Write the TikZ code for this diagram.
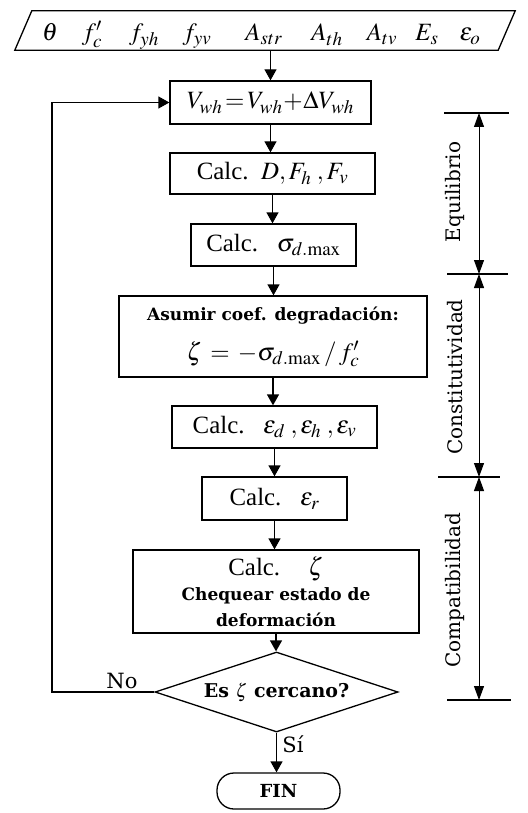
\documentclass[tikz,border=0pt]{standalone}
\IfFileExists{mathptmx.sty}{\usepackage{mathptmx}}{}
\usepackage[no-math]{fontspec}
\setmainfont{Liberation Serif}
\newfontfamily\cam{DejaVu Serif}
\DeclareMathSizes{24.88}{24.88}{19}{14}
\usetikzlibrary{arrows.meta,shapes.geometric}
\begin{document}
\begin{tikzpicture}[x=1pt,y=-1pt,
  lw/.style={line width=1.3pt},
  box/.style={draw,lw,inner sep=0pt,align=center,font=\fontsize{24.88}{28}\selectfont},
  arr/.style={lw,-{Triangle[length=11pt,width=12pt]}},
  dimarr/.style={line width=1pt,{Triangle[length=14pt,width=10pt]}-{Triangle[length=14pt,width=10pt]}},
  side/.style={rotate=90,font=\cam\fontsize{20}{24}\selectfont},
  lab/.style={font=\cam\fontsize{21}{24}\selectfont},
  sym/.style={anchor=base,inner sep=0pt,font=\fontsize{24.88}{28}\selectfont}]
\useasboundingbox (0,0) rectangle (527,813);
% input parallelogram
\node[minimum width=483,minimum height=39,inner sep=0pt] (inp) at (265,30.5) {};
\draw[lw] ([xshift=-8.5]inp.south west) -- ([xshift=8.5]inp.north west)
  -- ([xshift=8.5]inp.north east) -- ([xshift=-8.5]inp.south east) -- cycle;
\node[sym] (s1) at (50,41) {$\theta$};
\node[sym] (s2) at (92,41) {$f'_c$};
\node[sym] (s3) at (144,41) {$f_{yh}$};
\node[sym] (s4) at (197,41) {$f_{yv}$};
\node[sym] (s5) at (264,41) {$A_{str}$};
\node[sym] (s6) at (327,41) {$A_{th}$};
\node[sym] (s7) at (382,41) {$A_{tv}$};
\node[sym] (s8) at (427,41) {$E_s$};
\node[sym] (s9) at (470,41) {$\varepsilon_o$};
% boxes
\node[box,minimum width=201,minimum height=43] (b1) at (270.5,102.5) {$V_{wh}\!=\!V_{wh}\!+\!\Delta V_{wh}$};
\node[box,minimum width=205,minimum height=41] (b2) at (272.5,173.5) {Calc.\ \ $D,F_h\;,F_v$};
\node[box,minimum width=165,minimum height=42] (b3) at (273.5,245) {Calc.\ \ \ $\sigma_{d.\mathrm{max}}$};
\node[box,minimum width=308,minimum height=81] (b4) at (273,336.5)
 {{\cam\bfseries\fontsize{17}{20}\selectfont Asumir coef. degradación:}\\[12pt]
  {\fontsize{24.88}{30}\selectfont$\zeta\,=\,-\sigma_{d.\mathrm{max}}\,/\,f'_c$}};
\node[box,minimum width=205,minimum height=42] (b5) at (274.5,427) {Calc.\ \ \ $\varepsilon_d\;,\varepsilon_h\;,\varepsilon_v$};
\node[box,minimum width=145,minimum height=43] (b6) at (274.5,498.5) {Calc.\ \ \ $\varepsilon_r$};
\node[box,minimum width=286,minimum height=83] (b7) at (276,591.5)
 {Calc.\hspace{28pt}$\zeta$\\[-3pt]
  {\cam\bfseries\fontsize{17}{24}\selectfont Chequear estado de}\\[-2pt]
  {\cam\bfseries\fontsize{17}{24}\selectfont deformación}};
\node[draw,lw,diamond,aspect=3,minimum width=243,minimum height=80,inner sep=0pt,
  font=\cam\bfseries\fontsize{19}{22}\selectfont] (dia) at (276.5,692) {Es $\zeta$ cercano?};
\node[draw,lw,rounded corners=17pt,minimum width=123,minimum height=36,inner sep=0pt,
  font=\cam\bfseries\fontsize{18}{22}\selectfont] (fin) at (278.5,791) {FIN};
% connectors
\draw[arr] (inp.south -| b1.north) -- (b1.north);
\draw[arr] (b1.south) -- (b1.south |- b2.north);
\draw[arr] (b2.south) -- (b2.south |- b3.north);
\draw[arr] (b3.south) -- (b3.south |- b4.north);
\draw[arr] (b4.south) -- (b4.south |- b5.north);
\draw[arr] (b5.south) -- (b5.south |- b6.north);
\draw[arr] (b6.south) -- (b6.south |- b7.north);
\draw[arr] (b7.south) -- (b7.south |- dia.north);
\draw[arr] (dia.south) -- (dia.south |- fin.north);
\coordinate (loopx) at (52,0);
\draw[arr] (dia.west) -- (dia.west -| loopx) |- (b1.west);
\node[lab,anchor=south] (no) at (122,692) {No};
\node[lab] (si) at (293,744) {Sí};
% side dimensions
\coordinate (t1) at (479,113);
\coordinate (t2) at (479,274);
\coordinate (t3) at (479,477);
\coordinate (t4) at (479,700);
\draw[lw] ([xshift=-35]t1) -- ([xshift=30]t1);
\draw[lw] ([xshift=-32]t2) -- ([xshift=29]t2);
\draw[lw] ([xshift=-41]t3) -- ([xshift=21]t3);
\draw[lw] ([xshift=-32]t4) -- ([xshift=32]t4);
\draw[dimarr] (t1) -- (t2);
\draw[dimarr] (t2) -- (t3);
\draw[dimarr] (t3) -- (t4);
\node[side] (eq) at (455,192) {Equilibrio};
\node[side] (co) at (455,377) {Constitutividad};
\node[side] (cp) at (455,590) {Compatibilidad};
\end{tikzpicture}
\end{document}
